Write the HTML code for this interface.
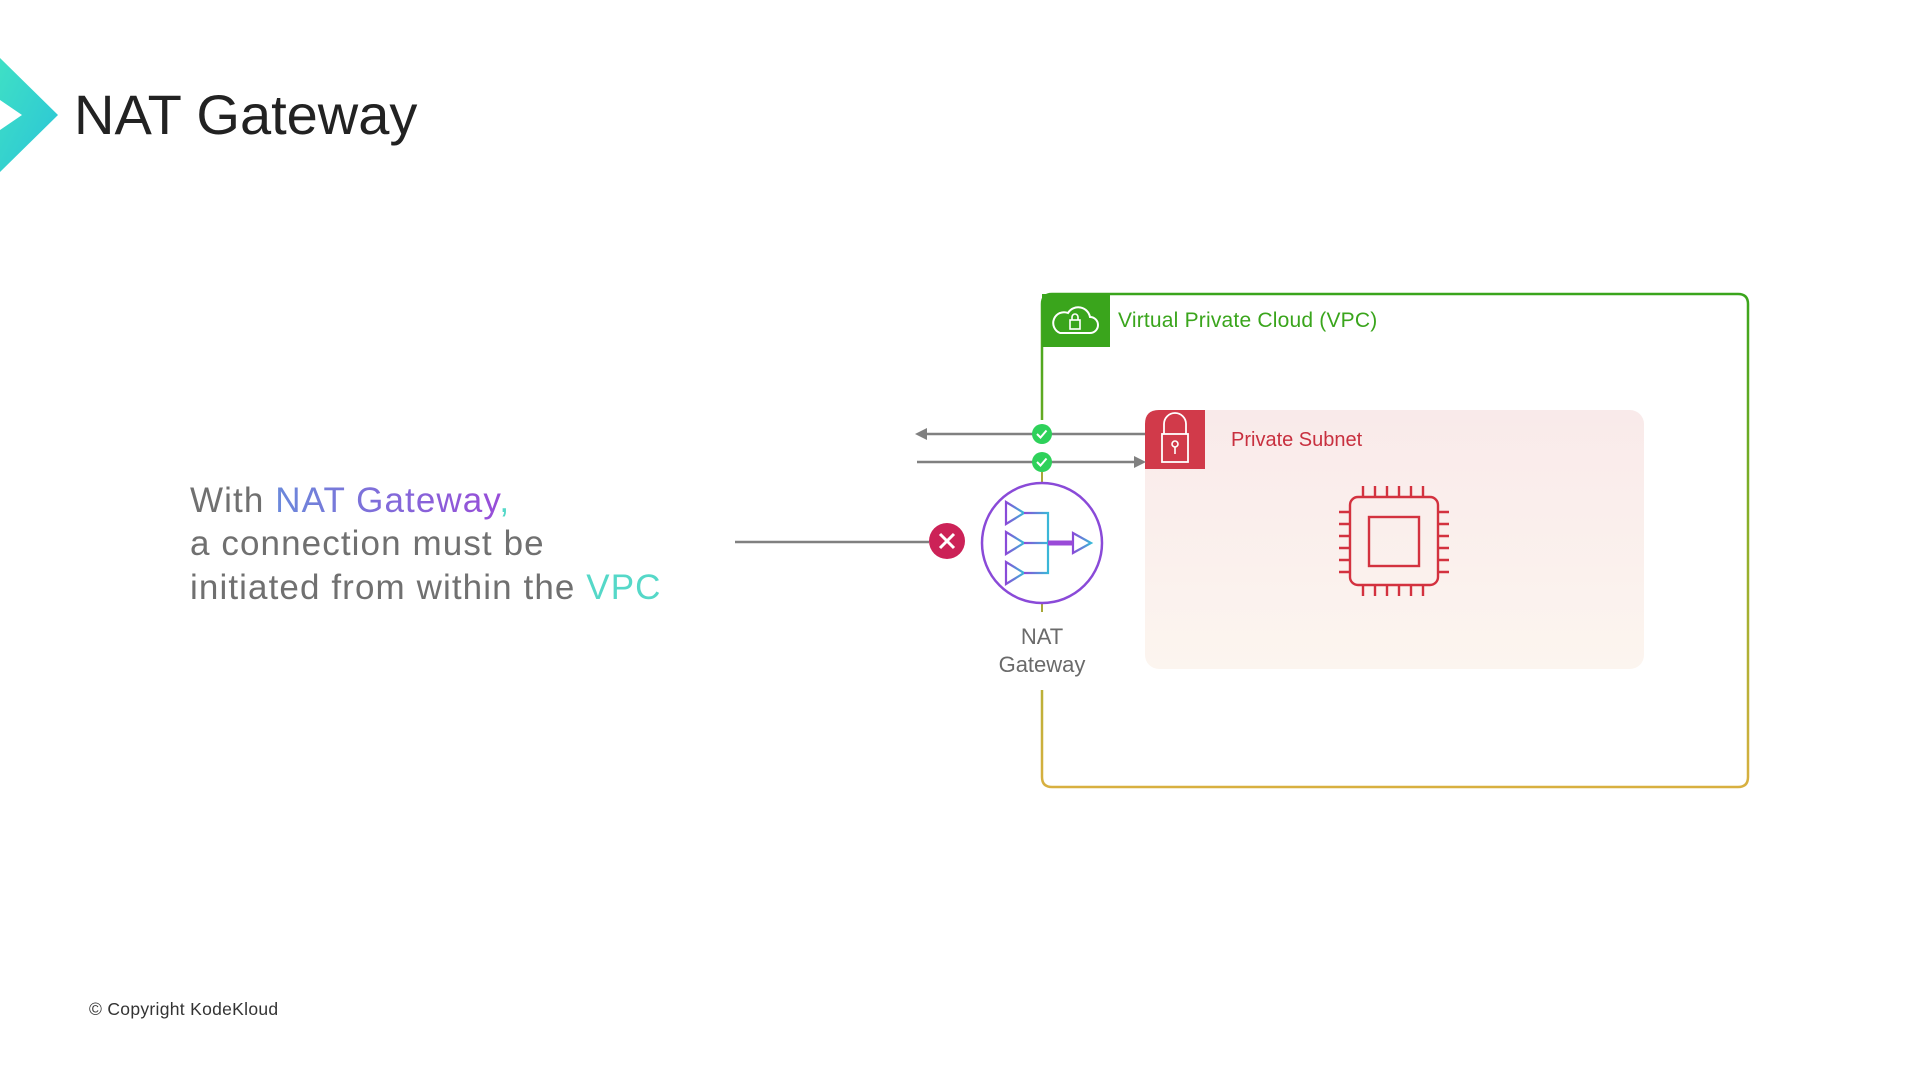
<!DOCTYPE html>
<html><head><meta charset="utf-8"><style>
html,body{margin:0;padding:0;background:#fff;}
svg{display:block;}
text{font-family:"Liberation Sans",sans-serif;}
</style></head><body>
<svg width="1920" height="1080" viewBox="0 0 1920 1080" xmlns="http://www.w3.org/2000/svg">
<defs>
<linearGradient id="chev" x1="0" y1="0" x2="1" y2="1"><stop offset="0" stop-color="#3fe0c5"/><stop offset="1" stop-color="#2ac4d8"/></linearGradient>
<linearGradient id="vpc" x1="0" y1="0" x2="0" y2="1"><stop offset="0" stop-color="#3aa51c"/><stop offset="0.5" stop-color="#8fb02a"/><stop offset="1" stop-color="#d8b040"/></linearGradient>
<linearGradient id="sub" x1="0" y1="0" x2="0" y2="1"><stop offset="0" stop-color="#f9eaea"/><stop offset="1" stop-color="#fcf5ef"/></linearGradient>
<linearGradient id="txt" x1="0" y1="0" x2="1" y2="0"><stop offset="0" stop-color="#5aa0dc"/><stop offset="1" stop-color="#9a4ad8"/></linearGradient>
<linearGradient id="nat" x1="0" y1="0" x2="1" y2="0"><stop offset="0" stop-color="#8a4ad8"/><stop offset="1" stop-color="#3ab8d8"/></linearGradient>
</defs>
<polygon points="0,58 0,100 22,115 0,130 0,172 58,115" fill="url(#chev)"/>
<text x="74" y="134" font-size="56" fill="#222">NAT Gateway</text>

<g font-size="35" fill="#707070" letter-spacing="1.1">
<text x="190" y="512">With <tspan fill="url(#txt)">NAT Gateway</tspan><tspan fill="#55d8c8">,</tspan></text>
<text x="190" y="555">a connection must be</text>
<text x="190" y="599">initiated from within the <tspan fill="#55d8c8">VPC</tspan></text>
</g>

<path d="M1042,420 L1042,304 Q1042,294 1052,294 L1738,294 Q1748,294 1748,304 L1748,777 Q1748,787 1738,787 L1052,787 Q1042,787 1042,777 L1042,690" fill="none" stroke="url(#vpc)" stroke-width="2.5"/>
<line x1="1042" y1="603" x2="1042" y2="612" stroke="#a8a838" stroke-width="2"/>
<rect x="1042" y="294" width="68" height="53" fill="#3aa51c"/>
<path d="M1060,333 h30 a8,8 0 0 0 0,-16 a12,12 0 0 0 -22,-4 a9,9 0 0 0 -8,20 z" fill="none" stroke="#fff" stroke-width="2"/>
<rect x="1070" y="320" width="10" height="9" fill="none" stroke="#fff" stroke-width="1.6"/>
<path d="M1072,320 v-3 a3,3 0 0 1 6,0 v3" fill="none" stroke="#fff" stroke-width="1.6"/>
<text x="1118" y="327" font-size="21" fill="#3aa51c" letter-spacing="0.2">Virtual Private Cloud (VPC)</text>

<rect x="1145" y="410" width="499" height="259" rx="14" fill="url(#sub)"/>
<path d="M1159,410 h46 v59 h-60 v-45 q0,-14 14,-14z" fill="#d13a4a"/>
<rect x="1162" y="434" width="26" height="28" fill="none" stroke="#fff" stroke-width="1.8"/>
<path d="M1164,434 v-10 a11,11 0 0 1 22,0 v10" fill="none" stroke="#fff" stroke-width="1.8"/>
<circle cx="1175" cy="444" r="3" fill="none" stroke="#fff" stroke-width="1.6"/><line x1="1175" y1="447" x2="1175" y2="454" stroke="#fff" stroke-width="1.6"/>
<text x="1231" y="446" font-size="20" fill="#c8303f">Private Subnet</text>

<g stroke="#d3323f" stroke-width="2.4" fill="none" transform="translate(-9,0)">
<rect x="1359" y="497" width="88" height="88" rx="8"/>
<rect x="1378" y="517" width="50" height="49"/>
<path d="M1348,512 h11 M1348,524 h11 M1348,536 h11 M1348,548 h11 M1348,560 h11 M1348,572 h11 M1447,512 h11 M1447,524 h11 M1447,536 h11 M1447,548 h11 M1447,560 h11 M1447,572 h11 M1372,486 v11 M1384,486 v11 M1396,486 v11 M1408,486 v11 M1420,486 v11 M1432,486 v11 M1372,585 v11 M1384,585 v11 M1396,585 v11 M1408,585 v11 M1420,585 v11 M1432,585 v11"/>
</g>

<line x1="925" y1="434" x2="1145" y2="434" stroke="#808080" stroke-width="2.5"/>
<polygon points="915,434 927,428 927,440" fill="#808080"/>
<line x1="917" y1="462" x2="1136" y2="462" stroke="#808080" stroke-width="2.5"/>
<polygon points="1146,462 1134,456 1134,468" fill="#808080"/>
<circle cx="1042" cy="434" r="10" fill="#2ed15a"/><path d="M1037,434 l3.5,3.5 l6,-7" stroke="#fff" stroke-width="2" fill="none"/>
<circle cx="1042" cy="462" r="10" fill="#2ed15a"/><path d="M1037,462 l3.5,3.5 l6,-7" stroke="#fff" stroke-width="2" fill="none"/>
<line x1="1042" y1="472" x2="1042" y2="484" stroke="#a8a838" stroke-width="2"/>

<circle cx="1042" cy="543" r="60" fill="#fff" stroke="#8a4ad8" stroke-width="2.5"/>
<g stroke="url(#nat)" stroke-width="2.2" fill="none">
<polygon points="1006,502 1006,524 1024,513"/>
<polygon points="1006,532 1006,554 1024,543"/>
<polygon points="1006,562 1006,584 1024,573"/>
<path d="M1024,513 h24 v60 h-24 M1024,543 h24"/>
<polygon points="1073,533 1073,553 1091,543"/>
</g>
<line x1="1048" y1="543" x2="1073" y2="543" stroke="#9a4ad8" stroke-width="5"/>
<text x="1042" y="644" font-size="22" fill="#6a6a6a" text-anchor="middle">NAT</text>
<text x="1042" y="672" font-size="22" fill="#6a6a6a" text-anchor="middle">Gateway</text>

<line x1="735" y1="542" x2="929" y2="542" stroke="#808080" stroke-width="2.5"/>
<circle cx="947" cy="541" r="18" fill="#cc2257"/>
<path d="M940,534 l14,14 M954,534 l-14,14" stroke="#fff" stroke-width="3"/>

<text x="89" y="1015" font-size="17.5" fill="#333" letter-spacing="0.3">© Copyright KodeKloud</text>
</svg>
</body></html>
